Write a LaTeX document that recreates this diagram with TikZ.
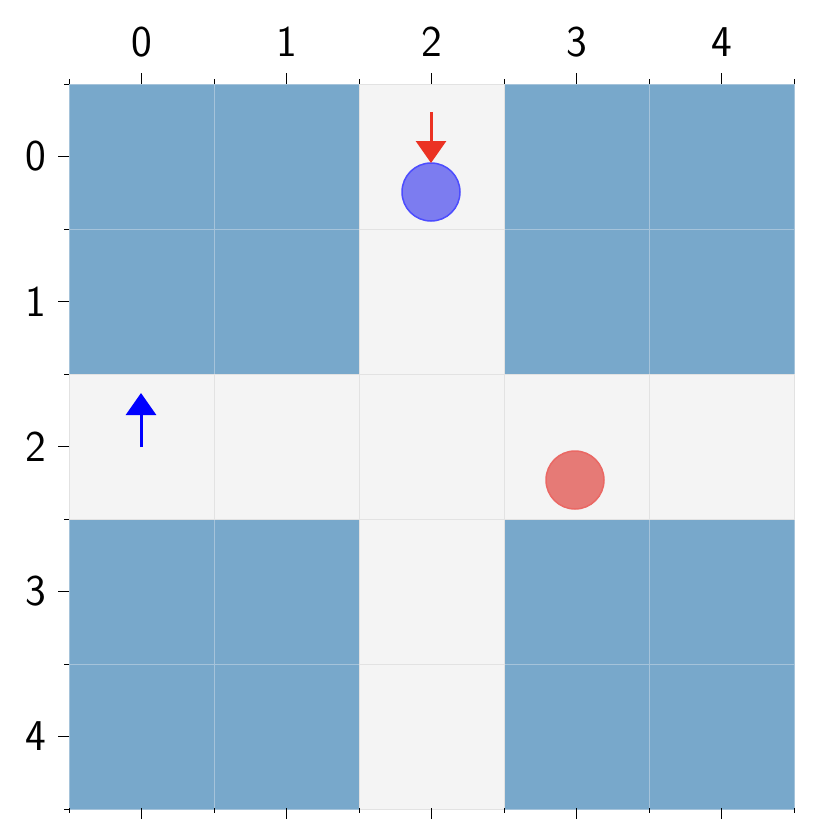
\documentclass[tikz,border=0pt]{standalone}
\usetikzlibrary{arrows.meta}
\definecolor{wallblue}{RGB}{120,168,203}
\definecolor{floorgrey}{RGB}{244,244,244}
\definecolor{gridonblue}{RGB}{165,195,218}
\definecolor{gridonfloor}{RGB}{226,226,226}
\definecolor{agentblue}{RGB}{118,118,240}
\definecolor{agentred}{RGB}{230,122,118}
\definecolor{arrowred}{RGB}{235,50,35}
\tikzset{
  wall/.style={fill=wallblue, draw=gridonblue, line width=1pt},
  floor/.style={fill=floorgrey, draw=gridonfloor, line width=1pt},
  majortick/.style={line width=1.3pt, black},
  minortick/.style={line width=1pt, black},
  lbl/.style={font=\sffamily\fontsize{44}{44}\selectfont, inner sep=0pt},
  agent/.style={circle, minimum size=58pt, inner sep=0pt, line width=1.5pt},
  move/.style={line width=3pt, -{Triangle[width=30pt,length=22pt]}}
}
\begin{document}
\begin{tikzpicture}[x=1pt,y=-1pt]
\useasboundingbox (0,0) rectangle (819,833);
% cells: origin (69,84), size 145
\foreach \r in {0,...,4}{
  \foreach \c in {0,...,4}{
    \pgfmathtruncatemacro{\isfloor}{(\r==2 || \c==2) ? 1 : 0}
    \ifnum\isfloor=1
      \path[floor] ({69+145*\c},{84+145*\r}) rectangle ++(145,145);
    \else
      \path[wall] ({69+145*\c},{84+145*\r}) rectangle ++(145,145);
    \fi
  }
}
% redraw floor cells on top so their light lines show evenly
\foreach \r/\c in {2/0,2/1,2/3,2/4,0/2,1/2,2/2,3/2,4/2}{
  \path[floor] ({69+145*\c},{84+145*\r}) rectangle ++(145,145);
}
% ticks and labels
\foreach \i in {0,...,4}{
  \draw[majortick] ({141.5+145*\i},84) -- ++(0,-11);
  \draw[majortick] ({141.5+145*\i},808) -- ++(0,11);
  \draw[majortick] (69,{156.5+145*\i}) -- ++(-11,0);
  \node[lbl] (top\i) at ({141.5+145*\i},42) {\i};
  \node[lbl] (left\i) at (36,{156.5+145*\i}) {\i};
}
\foreach \i in {0,...,5}{
  \draw[minortick] ({69+145*\i},84) -- ++(0,-5);
  \draw[minortick] ({69+145*\i},808) -- ++(0,5);
  \draw[minortick] (69,{84+145*\i}) -- ++(-5,0);
}
% agents
\node[agent, fill=agentblue, draw=blue!70, fill opacity=0.95] (blueagent) at (431,192) {};
\node[agent, fill=agentred, draw=agentred!85!red] (redagent) at (575,480) {};
% arrows
\coordinate (redstart) at (431,112);
\coordinate (redend) at (431,163);
\draw[move, arrowred] (redstart) -- (redend);
\coordinate (bluestart) at (141,447);
\coordinate (blueend) at (141,393);
\draw[move, blue] (bluestart) -- (blueend);
\end{tikzpicture}
\end{document}
